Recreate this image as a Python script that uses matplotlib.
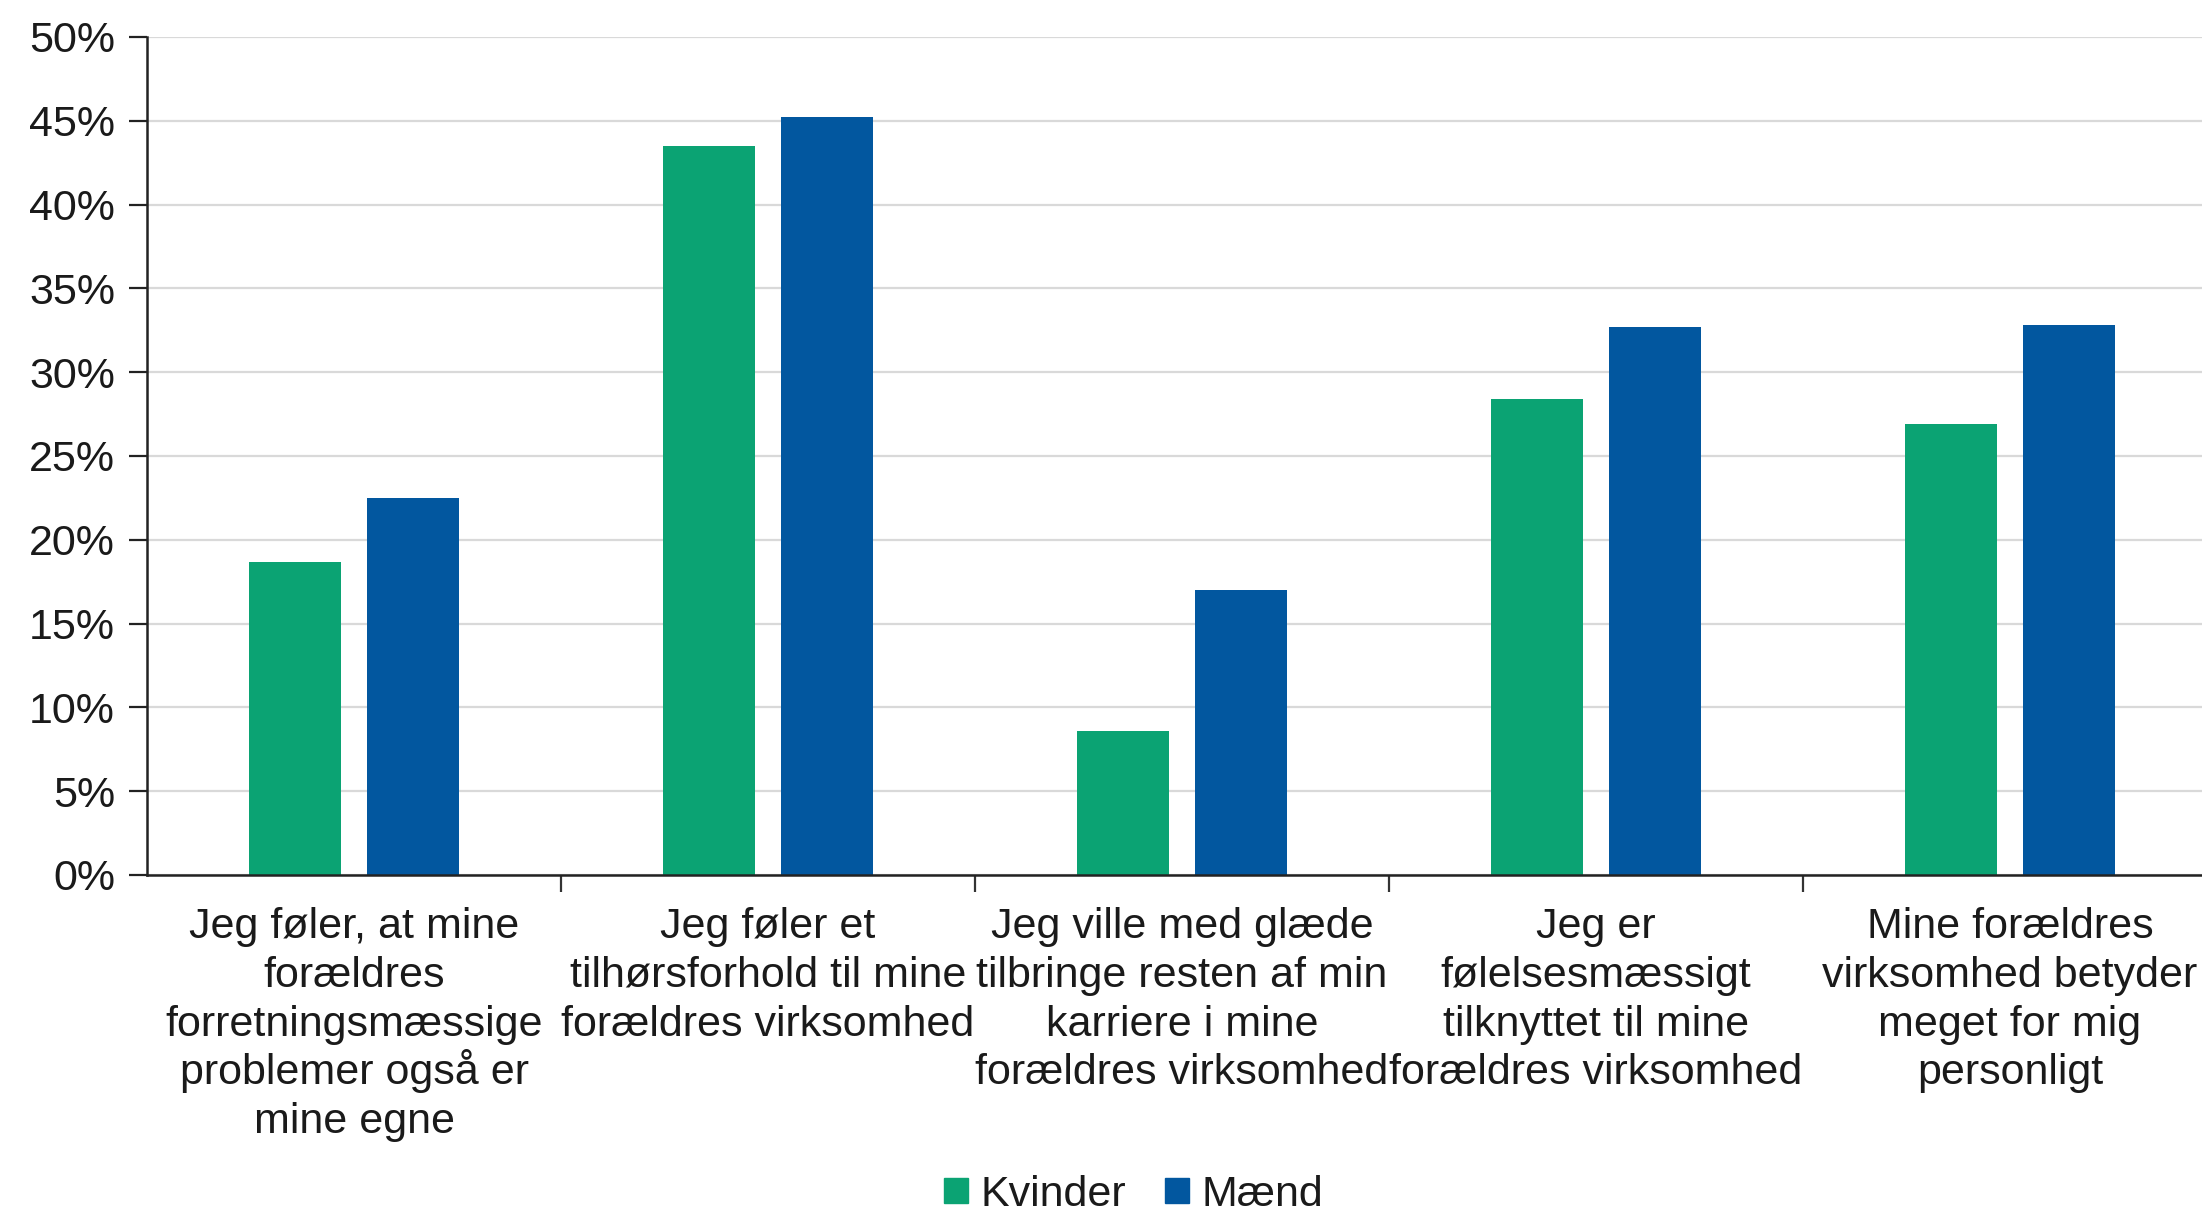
import matplotlib
matplotlib.use("Agg")
import matplotlib.pyplot as plt
from matplotlib.patches import Patch
from matplotlib.ticker import FixedLocator, PercentFormatter
import numpy as np

plt.rcParams["font.family"] = ["Liberation Sans", "DejaVu Sans"]

# --- data ---
categories = [
    "Jeg føler, at mine\nforældres\nforretningsmæssige\nproblemer også er\nmine egne",
    "Jeg føler et\ntilhørsforhold til mine\nforældres virksomhed",
    "Jeg ville med glæde\ntilbringe resten af min\nkarriere i mine\nforældres virksomhed",
    "Jeg er\nfølelsesmæssigt\ntilknyttet til mine\nforældres virksomhed",
    "Mine forældres\nvirksomhed betyder\nmeget for mig\npersonligt",
]
kvinder = [18.7, 43.5, 8.6, 28.4, 26.9]
maend = [22.5, 45.2, 17.0, 32.7, 32.8]
series_names = ["Kvinder", "Mænd"]
yticks = [0, 5, 10, 15, 20, 25, 30, 35, 40, 45, 50]

GREEN = "#0BA373"
BLUE = "#02579F"
TEXT = "#1a1a1a"
FS = 31

fig = plt.figure(figsize=(22.02, 12.08), dpi=100)
ax = fig.add_axes([147 / 2202, 1 - 875 / 1208, 2070 / 2202, 838 / 1208])

x = np.arange(len(categories))
width = 0.223
offset = 0.1425
ax.bar(x - offset, kvinder, width, color=GREEN, zorder=3)
ax.bar(x + offset, maend, width, color=BLUE, zorder=3)

ax.set_xlim(-0.5, len(categories) - 0.5)
ax.set_ylim(0, 50)
ax.set_yticks(yticks)
ax.yaxis.set_major_formatter(PercentFormatter(decimals=0))
ax.grid(axis="y", color="#D9D9D9", linewidth=1.6, zorder=0)

# boundary ticks on x; category labels drawn line by line so the
# baselines are evenly spaced (accented letters don't push lines apart)
ax.xaxis.set_major_locator(FixedLocator(x[:-1] + 0.5))
ax.xaxis.set_major_formatter(plt.NullFormatter())
ax.tick_params(axis="x", which="major", length=12, width=1.6, color="#333333")
ax.tick_params(axis="y", length=13, width=1.6, color="#222222", labelsize=FS,
               labelcolor=TEXT, pad=10)

first_baseline = 45.4   # points below the axis
line_step = 35.1        # points between baselines
for xi, label in zip(x, categories):
    for j, line in enumerate(label.split("\n")):
        ax.annotate(line, xy=(xi, 0), xycoords=ax.get_xaxis_transform(),
                    xytext=(0, -first_baseline - j * line_step),
                    textcoords="offset points", ha="center", va="baseline",
                    fontsize=FS, color=TEXT, annotation_clip=False)

for side in ["top", "right"]:
    ax.spines[side].set_visible(False)
for side in ["left", "bottom"]:
    ax.spines[side].set_linewidth(1.8)
    ax.spines[side].set_color("#222222")
ax.spines["bottom"].set_zorder(4)

handles = [Patch(color=GREEN), Patch(color=BLUE)]
fig.legend(handles, series_names, loc="center", bbox_to_anchor=(0.515, 0.011),
           ncol=2, frameon=False, fontsize=FS, handlelength=0.55, handleheight=0.55,
           handletextpad=0.3, columnspacing=0.9, labelcolor=TEXT)

fig.savefig("out.png", dpi=100)
